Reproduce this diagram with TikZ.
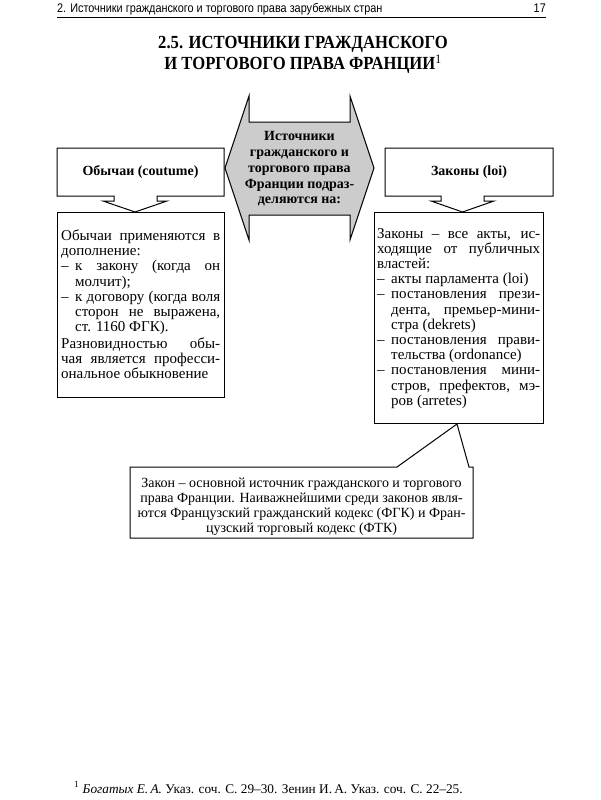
\documentclass[tikz,border=0pt]{standalone}
\usepackage{fontspec}
\setmainfont{Liberation Serif}
\newfontfamily\hdrfont[FakeStretch=0.87]{Liberation Sans}
\newfontfamily\titlefont[FakeStretch=0.9]{Liberation Serif}
\setlength\parindent{0pt}
\def\DW{14pt}
\def\W{159pt}
\newcommand\JL[1]{\hbox to \W{#1}}
\newcommand\LL[1]{\hbox to \W{#1\hfil}}
\newcommand\JI[1]{\hbox to \W{\hbox to \DW{–\hfil}#1}}
\newcommand\LI[1]{\hbox to \W{\hbox to \DW{–\hfil}#1\hfil}}
\newcommand\JC[1]{\hbox to \W{\hskip\DW #1}}
\newcommand\LC[1]{\hbox to \W{\hskip\DW #1\hfil}}
\begin{document}
\begin{tikzpicture}[x=1pt,y=-1pt,
  box/.style={draw, line width=1pt, line join=miter},
  body/.style={font=\fontsize{15}{15.2}\selectfont, inner sep=0pt},
  head/.style={font=\fontsize{14}{15.8}\selectfont\bfseries, inner sep=0pt, align=center}]
\useasboundingbox (0,0) rectangle (600,800);

% page header
\node[anchor=base west, inner sep=0pt, font=\hdrfont\fontsize{12.5}{14}\selectfont] (hdr) at (57,13) {2. Источники гражданского и торгового права зарубежных стран};
\node[anchor=base east, inner sep=0pt, font=\hdrfont\fontsize{12.5}{14}\selectfont] (pg) at (546,13) {17};
\coordinate (r1) at (57,17.3);
\coordinate (r2) at (546,17.3);
\draw[line width=1.3pt] (r1) -- (r2);

% title
\node[inner sep=0pt, align=center, font=\titlefont\fontsize{18.5}{21.5}\selectfont\bfseries, anchor=base] (title) at (303,70)
  {2.5. ИСТОЧНИКИ ГРАЖДАНСКОГО\\И ТОРГОВОГО ПРАВА ФРАНЦИИ\textsuperscript{\mdseries 1}};

% central double arrow
\draw[box, fill=gray!40] (225,168) -- (249,96) -- (249,122) -- (350,122) -- (350,96) -- (374,168)
  -- (350,240) -- (350,215) -- (249,215) -- (249,240) -- cycle;
\node[head] (src) at (299.5,169) {Источники\\гражданского и\\торгового права\\Франции подраз-\\деляются на:};

% top-left box with arrow
\draw[box] (114,196) -- (57,196) -- (57,148) -- (224,148) -- (224,196) -- (157,196) -- (157,201)
  -- (167,201) -- (135,212) -- (103,201) -- (114,201) -- cycle;
\node[head] (obych) at (140.5,172) {Обычаи (coutume)};

% top-right box with arrow
\draw[box] (441,196) -- (385,196) -- (385,148) -- (553,148) -- (553,196) -- (484,196) -- (484,201)
  -- (494,201) -- (462.5,212) -- (431,201) -- (441,201) -- cycle;
\node[head] (zak) at (469,172) {Законы (loi)};

% lower left box
\node[box, minimum width=167pt, minimum height=185pt, inner sep=0pt, anchor=north west] (obT) at (57,212) {};
\node[body, anchor=north west] (obText) at (61,229.5) {\vbox{\def\W{159pt}\baselineskip=15.2pt
\JL{Обычаи применяются в}
\LL{дополнение:}
\JI{к закону (когда он}
\LC{молчит);}
\JI{к договору (когда воля}
\JC{сторон не выражена,}
\LC{ст. 1160 ФГК).}
\vskip1.5pt
\JL{Разновидностью обы-}
\JL{чая является професси-}
\LL{ональное обыкновение}}};

% lower right box
\node[box, minimum width=169pt, minimum height=211pt, inner sep=0pt, anchor=north west] (zkT) at (374,212) {};
\node[body, anchor=north west] (zkText) at (377,228) {\vbox{\def\W{163pt}\baselineskip=15.2pt
\JL{Законы – все акты, ис-}
\JL{ходящие от публичных}
\LL{властей:}
\LI{акты парламента (loi)}
\JI{постановления прези-}
\JC{дента, премьер-мини-}
\LC{стра (dekrets)}
\JI{постановления прави-}
\LC{тельства (ordonance)}
\JI{постановления мини-}
\JC{стров, префектов, мэ-}
\LC{ров (arretes)}}};

% bottom callout box
\coordinate (tip) at (zkT.south -| 457,0);
\draw[box] (397,467) -- (130,467) -- (130,538) -- (473,538) -- (473,467) -- (469,467) -- (tip) -- cycle;
\node[inner sep=0pt, align=center, font=\fontsize{14}{15}\selectfont] (law) at (301.5,506.5)
  {Закон – основной источник гражданского и торгового\\
   права Франции. Наиважнейшими среди законов явля-\\
   ются Французский гражданский кодекс (ФГК) и Фран-\\
   цузский торговый кодекс (ФТК)};

% footnote
\node[anchor=base west, inner sep=0pt, font=\fontsize{13.3}{15}\selectfont] (fn) at (74,793)
  {\textsuperscript{1} \textit{Богатых Е.\,А.} Указ. соч. С.~29–30. Зенин И.\,А. Указ. соч. С.~22–25.};
\end{tikzpicture}
\end{document}
